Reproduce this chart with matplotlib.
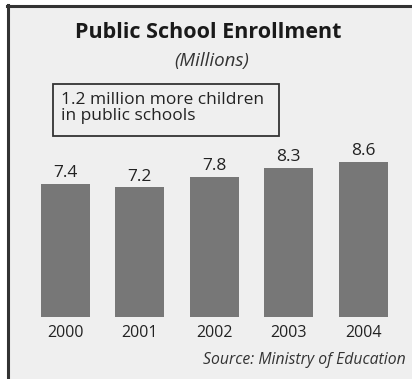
import matplotlib
matplotlib.use("Agg")
import matplotlib.pyplot as plt
from matplotlib.patches import Rectangle

years = ["2000", "2001", "2002", "2003", "2004"]
enrollment = [7.4, 7.2, 7.8, 8.3, 8.6]
value_labels = ["7.4", "7.2", "7.8", "8.3", "8.6"]

W, H = 412, 379
plt.rcParams['font.family'] = ['Open Sans', 'DejaVu Sans']

fig = plt.figure(figsize=(W / 100, H / 100), dpi=100)
fig.patch.set_facecolor("white")

# grey panel with dark border on the top and left
panel = Rectangle((7 / W, 0), 1 - 7 / W, 1 - 5 / H, transform=fig.transFigure,
                  facecolor="#efefef", edgecolor="none", zorder=-5)
fig.add_artist(panel)
fig.add_artist(plt.Line2D([7.5 / W, 1], [1 - 6 / H, 1 - 6 / H], color="#333333", lw=2.2))
fig.add_artist(plt.Line2D([8 / W, 8 / W], [0, 1 - 5 / H], color="#333333", lw=2.2))

# bars: baseline at y=317px, 18px per million
ax = fig.add_axes([28.3 / W, (H - 317) / H, 372 / W, 180 / H])
ax.set_zorder(2)
ax.set_facecolor("none")
x = range(len(years))
bars = ax.bar(x, enrollment, width=0.66, color="#777777", zorder=2)
ax.set_xlim(-0.5, 4.5)
ax.set_ylim(0, 10)
for s in ax.spines.values():
    s.set_visible(False)
ax.set_yticks([])
ax.set_xticks(list(x))
ax.set_xticklabels(years, fontsize=11.5, color="#222222")
ax.tick_params(axis="x", length=0, pad=6)

for xi, v, lab in zip(x, enrollment, value_labels):
    ax.annotate(lab, (xi, v), xytext=(0, 2), textcoords="offset points",
                ha="center", va="bottom", fontsize=12.5, color="#222222")

fig.text(208 / W, 1 - 32 / H, "Public School Enrollment", ha="center", va="center",
         fontsize=15.5, fontweight="bold", color="#1a1a1a")
fig.text(212 / W, 1 - 61 / H, "(Millions)", ha="center", va="center",
         fontsize=13.5, style="italic", color="#333333")

# callout box
fig.add_artist(Rectangle((53 / W, 1 - 136 / H), 226 / W, 52 / H, transform=fig.transFigure,
                         facecolor="none", edgecolor="#333333", lw=1.3))
fig.text(61 / W, 1 - 108 / H, "1.2 million more children\nin public schools", ha="left",
         va="center", fontsize=12.5, color="#222222", linespacing=0.95)

fig.text(406 / W, 1 - 360 / H, "Source: Ministry of Education", ha="right", va="center",
         fontsize=11.3, style="italic", color="#333333")

fig.savefig("out.png", dpi=100)
